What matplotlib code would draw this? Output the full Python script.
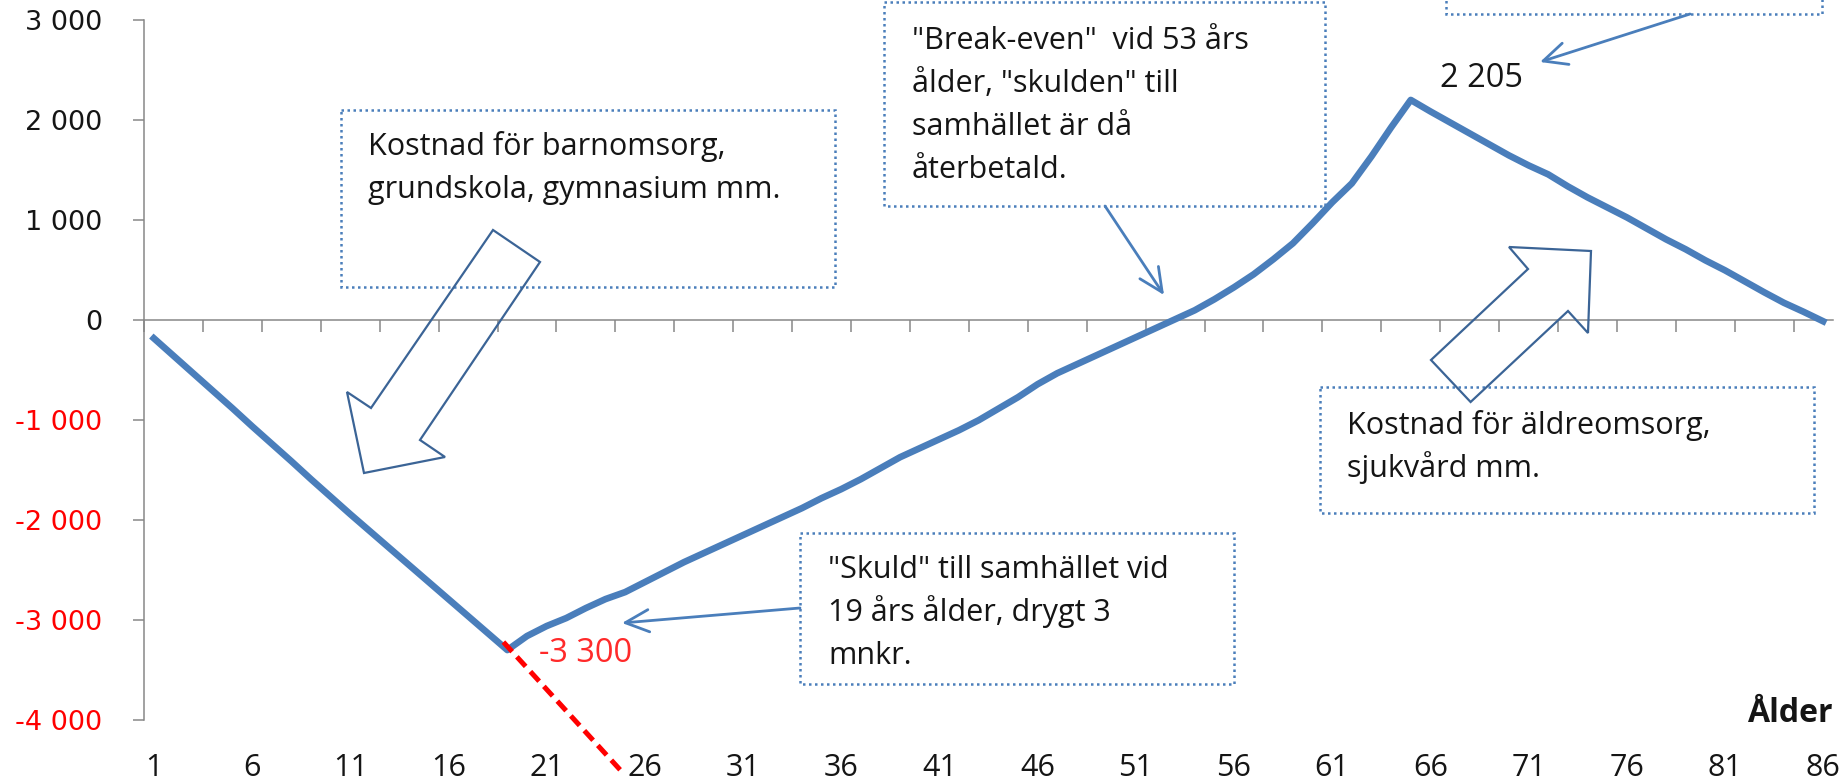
import numpy as np
import matplotlib
matplotlib.use("Agg")
import matplotlib.pyplot as plt
import matplotlib.transforms as mtransforms
from matplotlib.patches import Rectangle, Polygon, FancyArrowPatch, ArrowStyle
from matplotlib.ticker import NullLocator, FixedLocator

plt.rcParams['font.family'] = ['Open Sans', 'DejaVu Sans']

# Data: net contribution (kkr) per age
ages = np.arange(1, 87)
values = [
    -180, -355, -530, -705, -880, -1060, -1235, -1410, -1590, -1765,
    -1940, -2110, -2280, -2450, -2620, -2790, -2960, -3130, -3300, -3160,
    -3060, -2980, -2880, -2790, -2720, -2620, -2520, -2420, -2330, -2240,
    -2150, -2060, -1970, -1880, -1780, -1690, -1590, -1480, -1370, -1280,
    -1190, -1100, -1000, -885, -770, -640, -530, -440, -350, -260,
    -170, -80, 10, 100, 210, 330, 460, 610, 770, 970,
    1180, 1370, 1640, 1930, 2205, 2090, 1980, 1870, 1760, 1650,
    1550, 1460, 1340, 1230, 1130, 1030, 920, 810, 710, 600,
    500, 390, 280, 175, 85, -10,
]
label_ages = [1, 6, 11, 16, 21, 26, 31, 36, 41, 46, 51, 56, 61, 66, 71, 76, 81, 86]
y_ticks = [-4000, -3000, -2000, -1000, 0, 1000, 2000, 3000]
min_age, min_val = 19, -3300
max_age, max_val = 65, 2205
trend_x = [18.8, 24.75]
trend_y = [-3220, -4500]

box_texts = {
    'barn': ["Kostnad för barnomsorg,", "grundskola, gymnasium mm."],
    'break': ['"Break-even"  vid 53 års', 'ålder, "skulden" till',
              'samhället är då', 'återbetald.'],
    'skuld': ['"Skuld" till samhället vid', '19 års ålder, drygt 3', 'mnkr.'],
    'aldre': ["Kostnad för äldreomsorg,", "sjukvård mm."],
}

W, H = 1848, 783
fig = plt.figure(figsize=(W / 100, H / 100), dpi=100)
ax = fig.add_axes([144 / W, 63 / H, 1689 / W, 699.5 / H])
# pixel coords with origin at top-left, for the callouts
px = mtransforms.Affine2D().scale(1 / W, -1 / H).translate(0, 1) + fig.transFigure

blue = '#4A7EBB'
dark_blue = '#3B6496'
gray = '#878787'
ink = '#151515'

ax.plot(ages, values, color=blue, lw=4.8, solid_joinstyle='round', zorder=3)
ax.plot(trend_x, trend_y, color='#FF0000', lw=3.6, ls=(0, (2.6, 1.4)),
        clip_on=False, zorder=4)

ax.set_xlim(0.5, 86.5)
ax.set_ylim(-4000, 3000)

for s in ['top', 'right']:
    ax.spines[s].set_visible(False)
ax.spines['bottom'].set_position(('data', 0))
for s in ['bottom', 'left']:
    ax.spines[s].set_color(gray)
    ax.spines[s].set_linewidth(1.1)

ax.xaxis.set_major_locator(NullLocator())
ax.xaxis.set_minor_locator(FixedLocator(np.arange(0.5, 86, 3)))
ax.tick_params(axis='x', which='minor', length=8.6, width=1.1, color=gray,
               direction='out', labelbottom=False)

ax.set_yticks(y_ticks)
ax.set_yticklabels([f"{v:,}".replace(',', ' ') for v in y_ticks])
ax.tick_params(axis='y', length=8, width=1.1, color=gray, pad=22)
for lab, v in zip(ax.get_yticklabels(), y_ticks):
    lab.set_fontfamily('DejaVu Sans')
    lab.set_fontsize(19.5)
    lab.set_color('#FF0000' if v < 0 else ink)

sec = ax.secondary_xaxis('bottom')
sec.set_xticks(label_ages)
sec.set_xticklabels([str(a) for a in label_ages])
sec.tick_params(length=0, pad=24, labelsize=22, labelcolor=ink)
sec.spines['bottom'].set_visible(False)

fig.text(1833, 713, 'Ålder', transform=px, ha='right', va='center',
         fontsize=23, fontweight='bold', color=ink)

# data labels
ax.annotate(f"{min_val:,}".replace(',', ' '), (min_age, min_val),
            xytext=(23, -8.6), textcoords='offset points', ha='left',
            va='baseline', fontsize=23.5, color='#FF2A2A')
ax.annotate(f"{max_val:,}".replace(',', ' '), (max_age, max_val),
            xytext=(21, 9.4), textcoords='offset points', ha='left',
            va='baseline', fontsize=23.5, color=ink)

# dotted callout boxes (x0, y0, x1, y1) in pixels
boxes = [(341, 110, 835, 287), (884, 2, 1325, 206), (800, 533, 1234, 684),
         (1320, 387, 1814, 513), (1446, -50, 1822, 14)]
for x0, y0, x1, y1 in boxes:
    fig.add_artist(Rectangle((x0, y0), x1 - x0, y1 - y0, transform=px,
                             fill=False, edgecolor=blue, lw=1.8,
                             ls=(0, (1, 1.4))))

text_pos = {'barn': (368, 155), 'break': (912, 49), 'skuld': (828, 578),
            'aldre': (1347, 434)}
for key, lines in box_texts.items():
    x0, y0 = text_pos[key]
    for i, line in enumerate(lines):
        fig.text(x0, y0 + i * 43, line, transform=px, ha='left',
                 va='baseline', fontsize=22, color=ink)

# hollow block arrows
block_a = [(493, 230), (540, 262), (420, 440), (445, 457), (364, 473),
           (347, 392), (371, 408)]
block_b = [(1431, 360), (1470.6, 402), (1568, 311), (1588, 333), (1591, 251),
           (1509, 247), (1528, 269)]
for pts in (block_a, block_b):
    fig.add_artist(Polygon(pts, closed=True, transform=px, fill=False,
                           edgecolor=dark_blue, lw=1.6, joinstyle='miter'))

# thin pointer arrows
pointers = [((1105, 206), (1164, 295)), ((800, 608), (622, 623)),
            ((1690, 14), (1540, 62))]
for a, b in pointers:
    fig.add_artist(FancyArrowPatch(a, b, transform=px,
                                   arrowstyle=ArrowStyle('->', head_length=17,
                                                         head_width=8),
                                   mutation_scale=1, color=blue, lw=2,
                                   shrinkA=0, shrinkB=0))

fig.savefig('out.png', dpi=100)
